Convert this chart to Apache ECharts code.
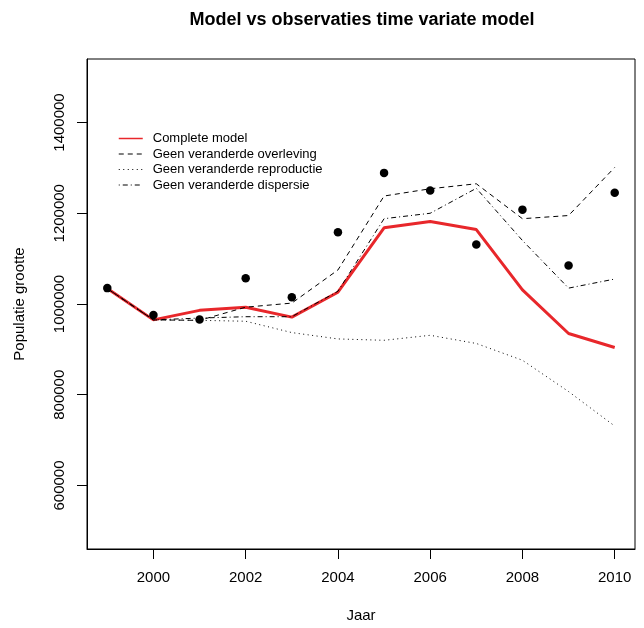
<!DOCTYPE html>
<html>
<head>
<meta charset="utf-8">
<script src="https://cdn.jsdelivr.net/npm/echarts@6/dist/echarts.min.js"></script>
<style>
  html, body { margin: 0; padding: 0; background: #ffffff; }
  #chart { width: 644px; height: 628px; }
</style>
</head>
<body>
<div id="chart"></div>
<script>
// Years of the simulation and observation series
const years = [1999, 2000, 2001, 2002, 2003, 2004, 2005, 2006, 2007, 2008, 2009, 2010];

// Observed population sizes (points)
const observaties = [1035000, 976000, 966000, 1057000, 1015000, 1158000, 1289000, 1250000, 1131000, 1208000, 1085000, 1245000];

// Model runs
const completeModel = [1034000, 965000, 986000, 993000, 971000, 1026000, 1168000, 1182000, 1164000, 1031000, 935000, 904000];
const geenOverleving = [1034000, 965000, 964000, 993000, 1002000, 1075000, 1238000, 1254000, 1265000, 1188000, 1195000, 1301000];
const geenReproductie = [1034000, 965000, 964000, 962000, 937000, 923000, 920000, 931000, 913000, 876000, 807000, 731000];
const geenDispersie = [1034000, 965000, 969000, 972000, 972000, 1028000, 1188000, 1200000, 1255000, 1140000, 1035000, 1055000];

// Tick positions
const xTicks = [2000, 2002, 2004, 2006, 2008, 2010];
const yTicks = [600000, 800000, 1000000, 1200000, 1400000];

const seriesNames = [
  'Complete model',
  'Geen veranderde overleving',
  'Geen veranderde reproductie',
  'Geen veranderde dispersie'
];

const RED = '#e8272b';
const pair = (vals) => years.map((y, i) => [y, vals[i]]);
const FONT = '"Liberation Sans", Arial, Helvetica, sans-serif';

const chart = echarts.init(document.getElementById('chart'), null, { renderer: 'canvas' });

chart.setOption({
  animation: false,
  backgroundColor: '#ffffff',
  title: {
    text: 'Model vs observaties time variate model',
    left: 357,
    top: 6,
    textAlign: 'center',
    textStyle: { fontFamily: FONT, fontSize: 18, fontWeight: 'bold', color: '#000' }
  },
  legend: {
    orient: 'vertical',
    left: 113,
    top: 127,
    itemWidth: 24,
    itemHeight: 12,
    itemGap: 2.5,
    lineStyle: { width: 1 },
    itemStyle: { opacity: 0 },
    textStyle: { fontFamily: FONT, fontSize: 13, color: '#000', padding: [0, 0, 0, 5] },
    data: [
      { name: seriesNames[0], lineStyle: { color: RED, width: 1.5 } },
      { name: seriesNames[1] },
      { name: seriesNames[2] },
      { name: seriesNames[3] }
    ]
  },
  grid: {
    left: 87,
    right: 9,
    top: 59,
    bottom: 77,
    show: true,
    borderColor: '#000',
    borderWidth: 1,
    backgroundColor: 'transparent'
  },
  xAxis: {
    type: 'value',
    min: 1998.56,
    max: 2010.44,
    name: 'Jaar',
    nameLocation: 'middle',
    nameGap: 59,
    nameTextStyle: { fontFamily: FONT, fontSize: 15, color: '#000' },
    axisLine: { show: true, onZero: false, lineStyle: { color: '#000', width: 1 } },
    axisTick: { show: true, length: 10, customValues: xTicks, lineStyle: { color: '#000' } },
    axisLabel: {
      customValues: xTicks,
      margin: 21,
      fontFamily: FONT, fontSize: 15, color: '#000',
      formatter: (v) => String(v)
    },
    splitLine: { show: false }
  },
  yAxis: {
    type: 'value',
    min: 460000,
    max: 1540000,
    name: 'Populatie grootte',
    nameLocation: 'middle',
    nameRotate: 90,
    nameGap: 60,
    nameTextStyle: { fontFamily: FONT, fontSize: 15, color: '#000' },
    axisLine: { show: true, onZero: false, lineStyle: { color: '#000', width: 1 } },
    axisTick: { show: true, length: 10, customValues: yTicks, lineStyle: { color: '#000' } },
    axisLabel: {
      customValues: yTicks,
      rotate: 90,
      margin: 20,
      fontFamily: FONT, fontSize: 15, color: '#000',
      formatter: (v) => String(v)
    },
    splitLine: { show: false }
  },
  series: [
    {
      name: seriesNames[0],
      type: 'line',
      data: pair(completeModel),
      symbol: 'none',
      lineStyle: { color: RED, width: 3 },
      itemStyle: { color: RED },
      z: 2
    },
    {
      name: seriesNames[1],
      type: 'line',
      data: pair(geenOverleving),
      symbol: 'none',
      lineStyle: { color: '#000', width: 1, type: [5, 4] },
      itemStyle: { color: '#000' },
      z: 3
    },
    {
      name: seriesNames[2],
      type: 'line',
      data: pair(geenReproductie),
      symbol: 'none',
      lineStyle: { color: '#000', width: 1, type: [1, 3.5] },
      itemStyle: { color: '#000' },
      z: 3
    },
    {
      name: seriesNames[3],
      type: 'line',
      data: pair(geenDispersie),
      symbol: 'none',
      lineStyle: { color: '#000', width: 1, type: [1, 3, 5, 3] },
      itemStyle: { color: '#000' },
      z: 3
    },
    {
      name: 'Observaties',
      type: 'scatter',
      data: pair(observaties),
      symbol: 'circle',
      symbolSize: 8.5,
      itemStyle: { color: '#000', opacity: 1 },
      z: 4
    }
  ]
});
</script>
</body>
</html>
